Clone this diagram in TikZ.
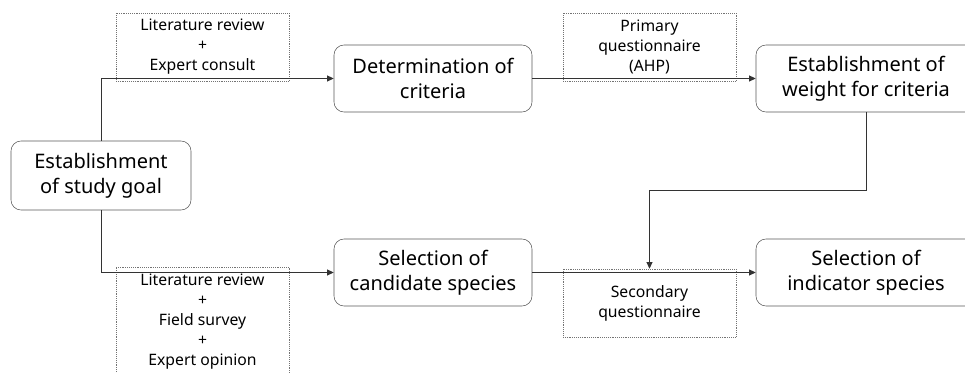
\documentclass[tikz,border=0pt]{standalone}
\usepackage{fontspec}
\setmainfont{Noto Sans}
\usepackage{tikz}
\usetikzlibrary{arrows.meta}

\begin{document}
\begin{tikzpicture}[x=0.75pt, y=-0.75pt,
        stepbox/.style={draw=black!65, rounded corners=7.5pt, align=center,
                font=\fontsize{15}{18.75}\selectfont, minimum height=50.25pt, inner sep=0pt},
        notebox/.style={draw=black!55, densely dotted, align=center,
                font=\fontsize{11.8}{15}\selectfont, minimum width=129.75pt, inner sep=0pt},
        flow/.style={draw=black!80, line width=0.7pt, -{Triangle[length=5pt, width=4.5pt]}}]
        \useasboundingbox (0,0) rectangle (965,373);
        \node (goal) [stepbox, minimum width=135pt, minimum height=51.75pt] at (101, 175.5) {Establishment\\of study goal};
        \node (crit) [stepbox, minimum width=148.5pt] at (433, 78.5) {Determination of\\criteria};
        \node (weight) [stepbox, minimum width=165pt] at (866, 78.5) {Establishment of\\weight for criteria};
        \node (cand) [stepbox, minimum width=148.5pt] at (433, 272.5) {Selection of\\candidate species};
        \node (ind) [stepbox, minimum width=165pt] at (866, 272.5) {Selection of\\indicator species};
        \node (lit1) [notebox, minimum height=51pt] at (202.5, 47) {Literature review\\+\\Expert consult};
        \node (ahp) [notebox, minimum height=51pt] at (649.5, 47) {Primary\\questionnaire\\(AHP)};
        \node (lit2) [notebox, minimum height=82.5pt] at (202.5, 322) {Literature review\\+\\Field survey\\+\\Expert opinion};
        \node (sec) [notebox, minimum height=51pt] at (649.5, 303) {Secondary\\questionnaire};
        \coordinate (turn) at (866, 190);
        % connectors
        \draw [flow] (goal.north) |- (crit.west);
        \draw [flow] (goal.south) |- (cand.west);
        \draw [flow] (crit.east) -- (weight.west);
        \draw [flow] (weight.south) -- (turn) -| (sec.north);
        \draw [flow] (cand.east) -- (ind.west);
\end{tikzpicture}
\end{document}
